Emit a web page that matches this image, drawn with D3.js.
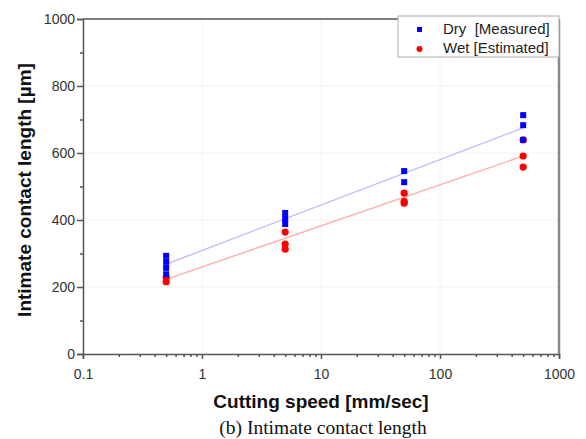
<!DOCTYPE html>
<html>
<head>
<meta charset="utf-8">
<script src="https://cdn.jsdelivr.net/npm/d3@7"></script>
<style>
  body { margin: 0; background: #fff; }
  svg { font-family: "Liberation Sans", Arial, sans-serif; }
</style>
</head>
<body>
<svg id="chart" width="586" height="439"></svg>
<script>
// Data
const speeds = [0.5, 5, 50, 500];
const dryValues = [
  [293, 275, 257, 238],
  [421, 403, 388],
  [546, 513],
  [713, 683, 639]
];
const wetValues = [
  [228, 216],
  [364, 328, 313],
  [480, 456, 450],
  [639, 591, 558]
];
const dryFit = [268, 675];
const wetFit = [223, 591];
const xTicks = [0.1, 1, 10, 100, 1000];
const yTicks = [0, 200, 400, 600, 800, 1000];

const svg = d3.select("#chart");
const margin = { left: 83, right: 27, top: 19, bottom: 85 };
const W = 586, H = 439;

const x = d3.scaleLog().domain([0.1, 1000]).range([margin.left, W - margin.right]);
const y = d3.scaleLinear().domain([0, 1000]).range([H - margin.bottom, margin.top]);

// faint grid
const grid = svg.append("g").attr("stroke", "#f2f2f2").attr("stroke-width", 1);
grid.selectAll("line.gx").data([1, 10, 100]).join("line")
  .attr("x1", d => x(d)).attr("x2", d => x(d))
  .attr("y1", y(0)).attr("y2", y(1000));
grid.selectAll("line.gy").data([200, 400, 600, 800]).join("line")
  .attr("x1", x(0.1)).attr("x2", x(1000))
  .attr("y1", d => y(d)).attr("y2", d => y(d));

// minor ticks
const minorX = [];
for (let e = -1; e < 3; e++) for (let m = 2; m <= 9; m++) minorX.push(m * Math.pow(10, e));

svg.append("g")
  .attr("transform", `translate(0,${y(0)})`)
  .call(d3.axisBottom(x).tickValues(xTicks).tickFormat(d3.format("~g")).tickSize(5).tickPadding(10));
svg.append("g")
  .attr("transform", `translate(0,${y(0)})`)
  .call(d3.axisBottom(x).tickValues(minorX).tickFormat("").tickSize(3))
  .call(g => g.select(".domain").remove());

svg.append("g")
  .attr("transform", `translate(${x(0.1)},0)`)
  .call(d3.axisLeft(y).tickValues(yTicks).tickFormat(d3.format("d")).tickSize(6).tickPadding(2));
svg.append("g")
  .attr("transform", `translate(${x(0.1)},0)`)
  .call(d3.axisLeft(y).tickValues([100, 300, 500, 700, 900]).tickFormat("").tickSize(3))
  .call(g => g.select(".domain").remove());

svg.selectAll(".tick text").attr("font-size", 14).attr("fill", "#333");
svg.selectAll(".domain, .tick line").attr("stroke", "#555").attr("stroke-width", 1.5);

// top and right frame
svg.append("line").attr("x1", x(0.1)).attr("x2", x(1000)).attr("y1", y(1000)).attr("y2", y(1000))
  .attr("stroke", "#555").attr("stroke-width", 1.5);
svg.append("line").attr("x1", x(1000)).attr("x2", x(1000)).attr("y1", y(1000)).attr("y2", y(0))
  .attr("stroke", "#888").attr("stroke-width", 2.5);

// fit lines
svg.append("line")
  .attr("x1", x(speeds[0])).attr("x2", x(speeds[3]))
  .attr("y1", y(dryFit[0])).attr("y2", y(dryFit[1]))
  .attr("stroke", "#b8b8ff").attr("stroke-width", 1.3);
svg.append("line")
  .attr("x1", x(speeds[0])).attr("x2", x(speeds[3]))
  .attr("y1", y(wetFit[0])).attr("y2", y(wetFit[1]))
  .attr("stroke", "#ffaaaa").attr("stroke-width", 1.3);

// points
const wetPts = wetValues.flatMap((vs, i) => vs.map(v => ({ s: speeds[i], v })));
const dryPts = dryValues.flatMap((vs, i) => vs.map(v => ({ s: speeds[i], v })));

svg.append("g").selectAll("circle").data(wetPts).join("circle")
  .attr("cx", d => x(d.s)).attr("cy", d => y(d.v)).attr("r", 3.6)
  .attr("fill", "#ff0000");
svg.append("g").selectAll("rect").data(dryPts).join("rect")
  .attr("x", d => x(d.s) - 3).attr("y", d => y(d.v) - 3)
  .attr("width", 6).attr("height", 6)
  .attr("fill", "#0000ff");

// legend
const lg = svg.append("g").attr("transform", "translate(398,16)");
lg.append("rect").attr("width", 161).attr("height", 41)
  .attr("fill", "#fff").attr("stroke", "#aaa").attr("stroke-width", 1);
lg.append("rect").attr("x", 19).attr("y", 11).attr("width", 5).attr("height", 5).attr("fill", "#0000ff");
lg.append("circle").attr("cx", 21.5).attr("cy", 33).attr("r", 3).attr("fill", "#ff0000");
lg.append("text").attr("x", 45).attr("y", 18).attr("font-size", 15).attr("fill", "#222")
  .attr("xml:space", "preserve").text("Dry  [Measured]");
lg.append("text").attr("x", 45).attr("y", 37).attr("font-size", 15).attr("fill", "#222")
  .text("Wet [Estimated]");

// axis titles
svg.append("text").attr("x", (x(0.1) + x(1000)) / 2).attr("y", 408)
  .attr("text-anchor", "middle").attr("font-size", 19).attr("font-weight", "bold").attr("fill", "#111")
  .text("Cutting speed [mm/sec]");
svg.append("text")
  .attr("transform", `translate(31,190) rotate(-90)`)
  .attr("text-anchor", "middle").attr("font-size", 19).attr("font-weight", "bold").attr("fill", "#111")
  .text("Intimate contact length [\u00b5m]");

// caption
svg.append("text").attr("x", 323).attr("y", 434)
  .attr("text-anchor", "middle").attr("font-size", 19.5)
  .attr("font-family", "'Liberation Serif', 'Times New Roman', serif").attr("fill", "#111")
  .text("(b) Intimate contact length");
</script>
</body>
</html>
